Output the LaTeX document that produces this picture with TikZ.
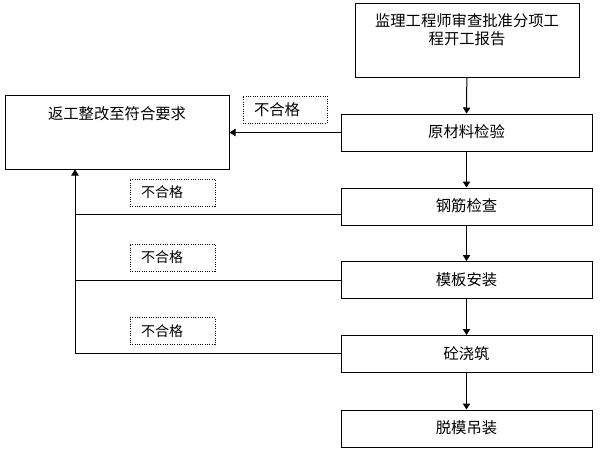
\documentclass[tikz,border=0pt]{standalone}
\usepackage{fontspec}
\setmainfont{Noto Sans CJK SC}
\usetikzlibrary{arrows.meta}
\begin{document}
\begin{tikzpicture}[x=0.75pt,y=-0.75pt,
  line width=0.75pt,
  box/.style={draw, minimum width=251*0.75pt, minimum height=37*0.75pt, inner sep=0pt, font=\fontsize{11.5pt}{13.5pt}\selectfont},
  bigbox/.style={draw, minimum width=224*0.75pt, minimum height=74*0.75pt, inner sep=0pt},
  dbox/.style={draw, densely dotted, minimum height=27*0.75pt, inner xsep=11*0.75pt, inner ysep=0pt, align=left},
  arr/.style={-{Triangle[length=4.5pt,width=5.5pt]}},
  txt/.style={font=\fontsize{11.5pt}{13.5pt}\selectfont, align=center}
]
\useasboundingbox (0,0) rectangle (600,450);

% top box with top-aligned text
\node[bigbox, label={[txt, anchor=north, yshift=-4.5pt]north:监理工程师审查批准分项工\\程开工报告}] (top) at (467,40) {};
\node[box] (ycl) at (466.5,132.5) {\raisebox{2pt}{原材料检验}};
\node[box] (gj) at (466.5,206.5) {\raisebox{2pt}{钢筋检查}};
\node[box] (mb) at (466.5,280) {\raisebox{2pt}{模板安装}};
\node[box] (tjz) at (466.5,354) {\raisebox{2pt}{砼浇筑}};
\node[box] (tm) at (466.5,428.5) {\raisebox{2pt}{脱模吊装}};

% rework box
\node[bigbox, label={[txt, anchor=north, yshift=-5.5pt]north:返工整改至符合要求}] (fix) at (117,132) {};

% unqualified labels
\node[dbox, text width=62*0.75pt, font=\fontsize{11.5pt}{13pt}\selectfont] (n0) at (285,109.5) {不合格};
\node[dbox, text width=63*0.75pt, font=\fontsize{10.5pt}{12pt}\selectfont] (n1) at (172.5,192.5) {不合格};
\node[dbox, text width=63*0.75pt, font=\fontsize{10.5pt}{12pt}\selectfont] (n2) at (172.5,257.5) {不合格};
\node[dbox, text width=63*0.75pt, font=\fontsize{10.5pt}{12pt}\selectfont] (n3) at (172.5,331) {不合格};

% main flow
\draw[arr] (top) -- (ycl);
\draw[arr] (ycl) -- (gj);
\draw[arr] (gj) -- (mb);
\draw[arr] (mb) -- (tjz);
\draw[arr] (tjz) -- (tm);

% feedback
\draw[arr] (ycl.west) -- (fix.east |- ycl.west);
\coordinate (j1) at (75,214);
\coordinate (j2) at (75,280);
\coordinate (j3) at (75,353);
\draw (j1 -| gj.west) -- (j1);
\draw (j2 -| mb.west) -- (j2);
\draw (j3 -| tjz.west) -- (j3);
\draw[arr] (j3) -- (j3 |- fix.south);
\end{tikzpicture}
\end{document}
